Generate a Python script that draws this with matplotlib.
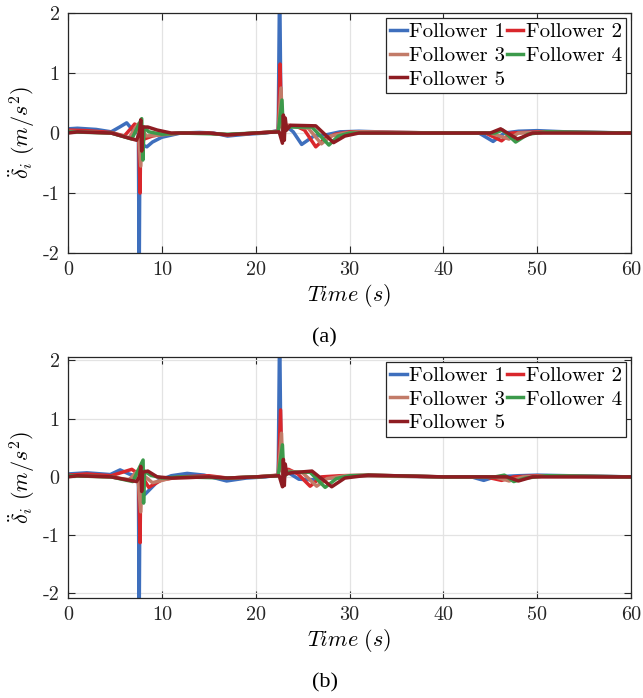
import matplotlib
matplotlib.use("Agg")
import matplotlib.pyplot as plt

plt.rcParams['font.family'] = ['cmr10', 'DejaVu Serif']
plt.rcParams['mathtext.fontset'] = 'cm'
plt.rcParams['axes.unicode_minus'] = False
plt.rcParams['axes.formatter.use_mathtext'] = False

labels = ["Follower 1", "Follower 2", "Follower 3", "Follower 4", "Follower 5"]
colors = ["#3e6fbd", "#d9272c", "#c27b68", "#3c9a4b", "#8e1c22"]

# ---------------- panel (a) ----------------
a_t1 = [0, 1, 3, 4.6, 5.5, 6.25, 7.0, 7.5, 7.58, 7.66, 8.4, 9, 10, 12, 14, 15.5, 17, 19, 21, 22.4, 22.55, 22.7, 23.2, 24.0, 24.9, 26.2, 27.5, 29, 31, 35, 40, 43.8, 45.3, 46.5, 48, 50, 53, 60]
a_v1 = [0.07, 0.08, 0.06, 0.02, 0.1, 0.17, 0.03, 0.0, -2.6, -0.18, -0.23, -0.15, -0.07, 0.0, 0.01, 0.0, -0.05, -0.02, 0.0, 0.04, 2.6, 0.15, 0.12, 0.02, -0.19, -0.05, -0.03, 0.02, 0.03, 0.01, 0.0, 0.0, -0.14, 0.0, 0.03, 0.04, 0.02, 0.0]

a_t2 = [0, 2, 4.6, 6.0, 7.1, 7.5, 7.68, 7.75, 8.1, 9, 10, 12, 15, 17, 20, 22.4, 22.6, 22.75, 23.5, 24.5, 25.2, 26.4, 27.3, 28.5, 30, 35, 40, 44.5, 46.2, 47.2, 50, 60]
a_v2 = [0.05, 0.04, 0.01, -0.05, 0.15, 0.1, -1.0, 0.1, -0.1, -0.05, -0.02, 0.0, 0.0, -0.03, 0.0, 0.03, 1.15, 0.1, 0.13, 0.1, 0.05, -0.23, -0.1, -0.02, 0.02, 0.01, 0.0, 0.0, -0.13, 0.0, 0.02, 0.0]

a_t3 = [0, 4.6, 6.5, 7.45, 7.75, 7.85, 8.3, 10, 12, 15, 17, 20, 22.4, 22.7, 22.85, 23.5, 25.6, 27.0, 28.0, 29.5, 31, 40, 45, 47.0, 48, 50, 60]
a_v3 = [0.03, 0.0, -0.08, 0.15, -0.55, 0.1, -0.05, -0.03, 0.0, 0.0, -0.03, 0.0, 0.02, 0.75, 0.05, 0.12, 0.08, -0.18, -0.05, 0.0, 0.02, 0.0, 0.0, -0.1, 0.0, 0.01, 0.0]

a_t4 = [0, 4.6, 6.8, 7.85, 7.98, 8.1, 8.6, 10, 12, 17, 20, 22.4, 22.8, 22.95, 23.5, 26.0, 27.8, 28.8, 30, 40, 45.5, 46.3, 47.7, 49, 51, 60]
a_v4 = [0.02, 0.0, -0.1, 0.24, -0.45, 0.1, 0.02, -0.02, 0.0, -0.02, 0.0, 0.02, 0.55, 0.0, 0.1, 0.1, -0.2, -0.05, 0.0, 0.0, 0.0, 0.05, -0.15, -0.02, 0.02, 0.0]

a_t5 = [0, 1, 4.6, 7.3, 7.6, 7.75, 7.85, 7.95, 8.5, 9.5, 11, 15, 17, 20, 22.5, 22.85, 22.95, 23.05, 23.15, 23.3, 23.7, 26.4, 28.3, 29.5, 31, 40, 45, 46.1, 47.9, 49.5, 60]
a_v5 = [0.0, 0.02, 0.0, -0.12, 0.0, 0.22, -0.3, 0.1, 0.1, 0.05, 0.0, 0.0, -0.03, 0.0, 0.02, -0.17, 0.3, -0.12, 0.25, 0.05, 0.13, 0.12, -0.16, -0.05, 0.0, 0.0, 0.0, 0.07, -0.1, 0.0, 0.0]

# ---------------- panel (b) ----------------
b_t1 = [0, 2, 4.5, 5.55, 6.5, 7.5, 7.58, 7.66, 8.2, 9.6, 11, 12.7, 14.5, 16.9, 19, 21, 22.4, 22.55, 22.7, 23.2, 24.6, 26, 28, 29.5, 32, 40, 43, 44.3, 45.5, 48, 50, 60]
b_v1 = [0.05, 0.07, 0.04, 0.12, 0.05, 0.0, -2.6, -0.3, -0.3, -0.07, 0.02, 0.06, 0.03, -0.07, -0.02, 0.0, 0.03, 2.6, 0.15, 0.1, -0.04, -0.05, -0.02, 0.02, 0.02, 0.0, 0.0, -0.06, 0.0, 0.02, 0.03, 0.0]

b_t2 = [0, 2, 4.6, 6.8, 7.5, 7.68, 7.75, 8.6, 10, 12, 15, 17, 20, 22.4, 22.65, 22.8, 23.5, 24.5, 25.8, 27.0, 29, 32, 40, 44.5, 46.2, 47.5, 50, 60]
b_v2 = [0.03, 0.05, 0.02, 0.13, 0.05, -1.13, 0.05, -0.18, -0.05, 0.0, 0.02, -0.02, 0.0, 0.03, 1.15, 0.1, 0.13, 0.05, -0.16, 0.0, 0.02, 0.03, 0.0, 0.0, -0.06, 0.0, 0.02, 0.0]

b_t3 = [0, 4.6, 6.5, 7.4, 7.75, 7.85, 9, 11, 15, 17, 20, 22.4, 22.75, 22.9, 23.5, 25.0, 26.5, 27.6, 29.5, 40, 45.5, 47.0, 48.5, 50, 60]
b_v3 = [0.02, 0.0, -0.05, 0.1, -0.6, 0.05, -0.1, -0.02, 0.0, -0.02, 0.0, 0.02, 0.75, 0.05, 0.1, 0.07, -0.16, -0.03, 0.02, 0.0, 0.0, -0.07, 0.0, 0.01, 0.0]

b_t4 = [0, 4.6, 6.9, 8.0, 8.05, 8.15, 8.8, 10, 12, 17, 20, 22.4, 22.85, 23.0, 23.5, 25.8, 27.4, 28.6, 30, 32, 40, 45.5, 46.5, 47.5, 48.8, 51, 60]
b_v4 = [0.02, 0.0, -0.08, 0.29, -0.45, 0.1, 0.03, -0.02, 0.0, -0.02, 0.0, 0.02, 0.55, 0.0, 0.08, 0.08, -0.18, -0.03, 0.02, 0.03, 0.0, 0.0, 0.03, -0.08, -0.02, 0.02, 0.0]

b_t5 = [0, 1, 4.6, 7.3, 7.6, 7.75, 7.85, 7.95, 8.5, 9.5, 11, 15, 17, 20, 22.5, 22.85, 22.95, 23.05, 23.15, 23.3, 23.8, 26.0, 28.1, 29.5, 32, 40, 45, 46.8, 48.0, 49.5, 60]
b_v5 = [0.0, 0.02, 0.0, -0.08, 0.0, 0.18, -0.25, 0.08, 0.1, 0.0, -0.02, 0.0, -0.02, 0.0, 0.02, -0.17, 0.3, -0.15, 0.22, 0.05, 0.07, 0.1, -0.17, -0.02, 0.03, 0.0, 0.0, 0.0, -0.07, 0.0, 0.0]

panels = [
    ([a_t1, a_t2, a_t3, a_t4, a_t5], [a_v1, a_v2, a_v3, a_v4, a_v5], (-2.0, 2.0), "(a)"),
    ([b_t1, b_t2, b_t3, b_t4, b_t5], [b_v1, b_v2, b_v3, b_v4, b_v5], (-2.08, 2.06), "(b)"),
]

fig = plt.figure(figsize=(6.43, 6.98), dpi=100)
positions = [[0.1058, 0.6375, 0.8756, 0.3438], [0.1058, 0.1433, 0.8756, 0.3453]]
caption_y = [1 - 338 / 698, 1 - 683 / 698]

for (ts, vs, ylim, cap), pos, cy in zip(panels, positions, caption_y):
    ax = fig.add_axes(pos)
    lines = []
    for t, v, c, lab in zip(ts, vs, colors, labels):
        ln, = ax.plot(t, v, color=c, lw=2.5, label=lab, solid_joinstyle='round')
        lines.append(ln)
    ax.set_xlim(0, 60)
    ax.set_ylim(*ylim)
    ax.set_xticks([0, 10, 20, 30, 40, 50, 60])
    ax.set_yticks([-2, -1, 0, 1, 2])
    ax.grid(True, color="#e3e3e3", lw=0.9)
    ax.set_axisbelow(True)
    ax.tick_params(direction='in', top=True, right=True, length=5, width=0.8,
                   labelsize=14.5, colors="#262626", pad=6)
    for s in ax.spines.values():
        s.set_color("#262626")
        s.set_linewidth(0.9)
    ax.set_xlabel(r"$Time\ (s)$", fontsize=16, labelpad=2)
    ax.set_ylabel(r"$\ddot{\delta}_i\ (m/s^2)$", fontsize=16, labelpad=4)
    order = [0, 2, 4, 1, 3]
    leg = ax.legend([lines[i] for i in order], [labels[i] for i in order],
                    loc='upper right', ncol=2, fontsize=15, frameon=True, fancybox=False,
                    handlelength=0.8, handletextpad=0.1, columnspacing=0.1,
                    borderpad=0.2, labelspacing=0.25, borderaxespad=0.25)
    leg.get_frame().set_edgecolor("#262626")
    leg.get_frame().set_linewidth(0.9)
    leg.get_frame().set_alpha(1)
    for h in leg.legend_handles:
        h.set_linewidth(2.5)
    fig.text(0.505, cy, cap, ha='center', va='center', fontsize=16,
             family='Liberation Serif')

fig.savefig("out.png", dpi=100)
